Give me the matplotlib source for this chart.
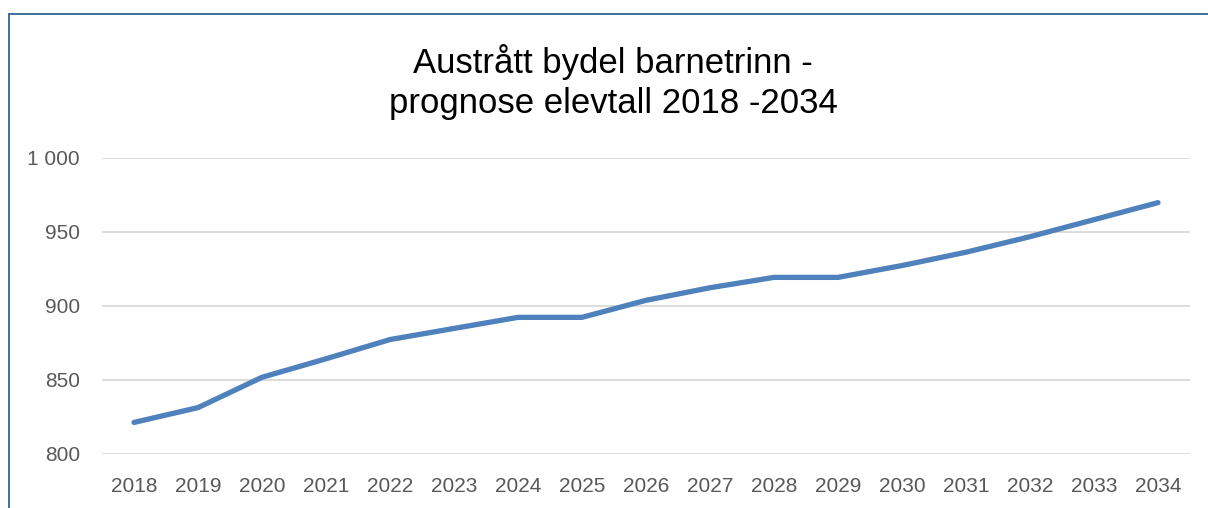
import matplotlib
matplotlib.use("Agg")
from matplotlib import pyplot as plt
from matplotlib.lines import Line2D
from matplotlib.ticker import FuncFormatter

years = [str(y) for y in range(2018, 2035)]
elevtall = [821, 831, 851.5, 864, 877, 884.5, 892, 892, 903.5, 912, 919, 919, 927, 936, 946.5, 958, 969.5]
y_ticks = [800, 850, 900, 950, 1000]
title = "Austrått bydel barnetrinn -\nprognose elevtall 2018 -2034"

plt.rcParams['font.family'] = ['Liberation Sans', 'DejaVu Sans']

fig = plt.figure(figsize=(12.08, 5.08), dpi=100)
ax = fig.add_axes([102 / 1208, 54.5 / 508, 1088 / 1208, 296 / 508])

x = range(len(years))
ax.plot(x, elevtall, color='#4f81bd', lw=3.8, solid_capstyle='round', solid_joinstyle='round', zorder=3)

ax.set_xlim(-0.5, len(years) - 0.5)
ax.set_ylim(800, 1000)
ax.set_xticks(list(x))
ax.set_xticklabels(years)
ax.set_yticks(y_ticks)
ax.yaxis.set_major_formatter(FuncFormatter(lambda v, p: f"{int(v):,}".replace(",", " ")))
ax.grid(axis='y', color='#d9d9d9', lw=1.3)
ax.set_axisbelow(True)
for s in ax.spines.values():
    s.set_visible(False)
ax.tick_params(length=0, labelsize=15, labelcolor='#595959')
ax.tick_params(axis='y', pad=16)
ax.tick_params(axis='x', pad=17)

fig.text(613 / 1208, 1 - 82 / 508, title, ha='center', va='center', fontsize=25, color='black', linespacing=1.28)

# outer frame (only left and top edges visible)
fig.add_artist(Line2D([8.5 / 1208, 8.5 / 1208], [0, 1 - 13.5 / 508], transform=fig.transFigure, color='#41719c', lw=1.4))
fig.add_artist(Line2D([8.5 / 1208, 1], [1 - 13.5 / 508, 1 - 13.5 / 508], transform=fig.transFigure, color='#41719c', lw=1.4))

fig.savefig('out.png', dpi=100)
